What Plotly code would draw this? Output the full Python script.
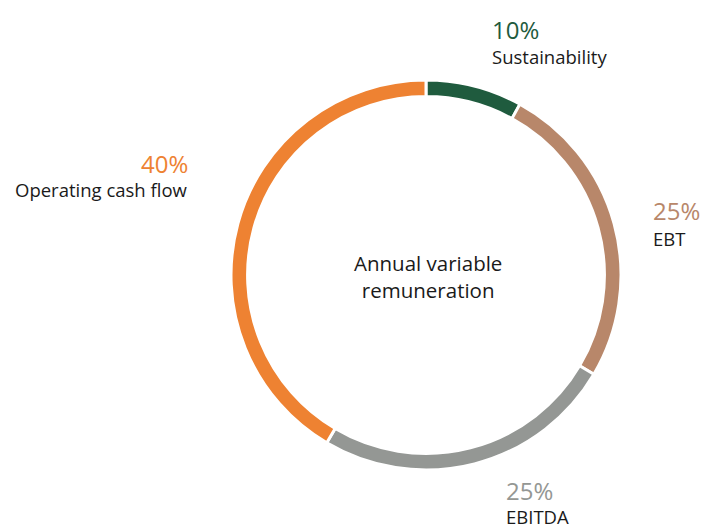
import plotly.graph_objects as go

categories = ["Sustainability", "EBT", "EBITDA", "Operating cash flow"]
pct_labels = ["10%", "25%", "25%", "40%"]
arc_values = [8, 25.5, 25, 41.5]  # arc sizes as drawn
colors = ["#1f5b3e", "#b8876a", "#949794", "#ee8232"]

W, H = 704, 530
cx, cy, R = 426, 275, 195

fig = go.Figure(go.Pie(
    labels=categories, values=arc_values, sort=False, direction="clockwise",
    rotation=0, hole=0.915, textinfo="none", hoverinfo="label",
    marker=dict(colors=colors, line=dict(color="white", width=3)),
    domain=dict(x=[(cx - R) / W, (cx + R) / W], y=[(H - cy - R) / H, (H - cy + R) / H]),
    showlegend=False,
))

FONT = "Open Sans"
# label positions (px) and anchors
pos = [
    (490, 30, 57, "left"),
    (651, 210, 238, "left"),
    (504, 490, 516, "left"),
    (190, 163, 190, "right"),
]
ann = []
for (x, y1, y2, anc), pct, cat, col in zip(pos, pct_labels, categories, colors):
    ann.append(dict(x=x / W, y=1 - y1 / H, xref="paper", yref="paper", text=pct,
                    showarrow=False, xanchor=anc, yanchor="middle",
                    font=dict(family=FONT, size=24, color=col)))
    ann.append(dict(x=x / W, y=1 - y2 / H, xref="paper", yref="paper", text=cat,
                    showarrow=False, xanchor=anc, yanchor="middle",
                    font=dict(family=FONT, size=18.5, color="#1a1a1a")))
ann.append(dict(x=428 / W, y=1 - 276 / H, xref="paper", yref="paper",
                text="Annual variable<br>remuneration", showarrow=False,
                xanchor="center", yanchor="middle",
                font=dict(family=FONT, size=20.5, color="#1a1a1a")))

fig.update_layout(width=W, height=H, margin=dict(l=0, r=0, t=0, b=0),
                  paper_bgcolor="white", plot_bgcolor="white", annotations=ann)
fig.write_html("out.html", config={"displayModeBar": False},
               post_script="document.body.style.margin='0';document.body.style.overflow='hidden';")
